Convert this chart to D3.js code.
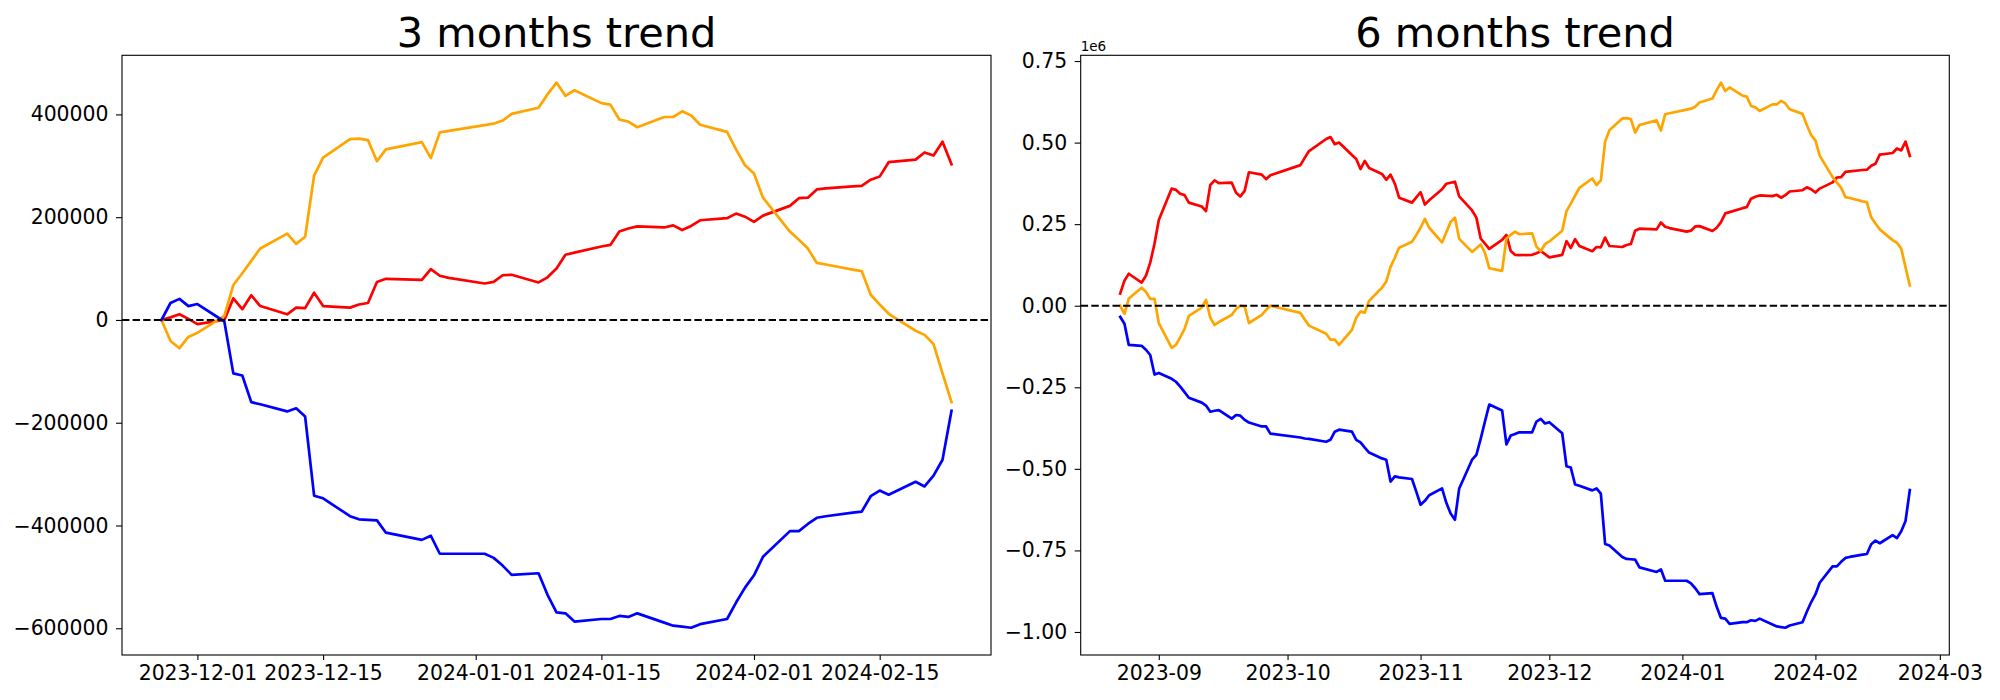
<!DOCTYPE html>
<html><head><meta charset="utf-8">
<script src="https://cdn.jsdelivr.net/npm/d3@7"></script>
<style>body{margin:0;background:#fff}text{font-family:"DejaVu Sans",sans-serif}</style>
</head><body>
<svg id="chart" width="2000" height="700"></svg>
<script>
// ---------- DATA (values in thousands) ----------
const dates3 = ["2023-11-27","2023-11-28","2023-11-29","2023-11-30","2023-12-01",
"2023-12-04","2023-12-05","2023-12-06","2023-12-07","2023-12-08",
"2023-12-11","2023-12-12","2023-12-13","2023-12-14","2023-12-15",
"2023-12-18","2023-12-19","2023-12-20","2023-12-21","2023-12-22",
"2023-12-26","2023-12-27","2023-12-28","2023-12-29",
"2024-01-02","2024-01-03","2024-01-04","2024-01-05",
"2024-01-08","2024-01-09","2024-01-10","2024-01-11","2024-01-12",
"2024-01-15","2024-01-16","2024-01-17","2024-01-18","2024-01-19",
"2024-01-22","2024-01-23","2024-01-24","2024-01-25","2024-01-26",
"2024-01-29","2024-01-30","2024-01-31","2024-02-01","2024-02-02",
"2024-02-05","2024-02-06","2024-02-07","2024-02-08","2024-02-09",
"2024-02-12","2024-02-13","2024-02-14","2024-02-15","2024-02-16",
"2024-02-19","2024-02-20","2024-02-21","2024-02-22","2024-02-23"];
const red3 = [0,5,11,2,-8, 0,42,21,48,27, 11,24,23,53,27, 24,30,33,74,80, 78,99,86,82,
71,74,87,88, 73,83,100,127,131, 143,146,172,178,182, 180,184,175,183,194,
198,207,201,191,203, 222,237,238,254,256, 260,261,273,279,307, 312,326,320,347,303];
const orange3 = [0,-41,-55,-33,-25, 8,68,91,115,139, 168,148,162,281,316, 352,353,350,309,332, 346,315,365,368,
379,382,388,401, 413,439,462,436,447, 422,419,390,386,375, 395,395,406,398,380,
366,332,301,285,238, 172,156,139,111,108, 98,95,49,30,12, -21,-29,-47,-104,-160];
const blue3 = [0,33,41,27,31, -3,-104,-108,-160,-164, -178,-172,-188,-342,-347, -382,-388,-389,-390,-414, -428,-420,-455,-455,
-455,-463,-478,-496, -493,-535,-569,-571,-587, -582,-582,-576,-578,-571, -589,-595,-597,-599,-592,
-582,-550,-521,-497,-461, -411,-411,-397,-385,-382, -375,-373,-343,-332,-340, -315,-324,-303,-272,-177];

const datesAugNov = ["2023-08-23","2023-08-24","2023-08-25","2023-08-28","2023-08-29","2023-08-30","2023-08-31",
"2023-09-01","2023-09-04","2023-09-05","2023-09-06","2023-09-07","2023-09-08",
"2023-09-11","2023-09-12","2023-09-13","2023-09-14","2023-09-15",
"2023-09-18","2023-09-19","2023-09-20","2023-09-21","2023-09-22",
"2023-09-25","2023-09-26","2023-09-27",
"2023-10-04","2023-10-05","2023-10-06","2023-10-10","2023-10-11","2023-10-12","2023-10-13",
"2023-10-16","2023-10-17","2023-10-18","2023-10-19","2023-10-20",
"2023-10-23","2023-10-24","2023-10-25","2023-10-26","2023-10-27","2023-10-30","2023-10-31",
"2023-11-01","2023-11-02","2023-11-03","2023-11-06","2023-11-07","2023-11-08","2023-11-09","2023-11-10",
"2023-11-13","2023-11-14","2023-11-15","2023-11-16","2023-11-17",
"2023-11-20","2023-11-21","2023-11-22","2023-11-23","2023-11-24"];
const dates6 = datesAugNov.concat(dates3);
const red6 = [37,77,98,71,92,132,190,
263,359,355,343,339,316,304,290,370,384,376,377,346,335,352,409,402,388,400,
431,453,474,511,517,495,500,462,450,419,444,422,404,386,402,374,331,316,332,
348,310,323,357,374,377,380,335,292,270,206,190,174,202,217,168,156,155,
156,161,167,158,148,156,198,177,204,183,167,180,179,209,183,180,186,189,230,236,234,255,242,238,
227,230,243,244,229,239,256,283,287,299,302,328,334,338,336,340,331,339,350,
354,363,357,347,359,378,393,394,410,412,416,417,429,435,463,468,482,476,503,459];
const orange6 = [0,-25,22,55,43,21,21,
-53,-129,-120,-96,-71,-31,-6,18,-37,-59,-50,-28,-10,0,-2,-53,-28,-13,0,
-22,-42,-61,-86,-104,-104,-120,-74,-37,-18,-21,15,55,74,119,147,178,196,217,
239,266,239,194,225,257,270,205,165,176,188,162,115,107,206,217,227,219,
222,181,167,189,197,230,290,313,337,361,390,370,384,503,538,574,575,572,531,554,568,537,587,590,
601,604,610,623,635,661,684,658,669,644,641,612,608,597,617,617,628,620,602,
588,554,523,507,460,394,378,361,333,330,320,317,271,252,234,201,193,175,118,62];
const blue6 = [-34,-55,-120,-123,-135,-151,-211,
-206,-224,-233,-248,-265,-282,-297,-306,-325,-322,-320,-346,-335,-337,-350,-358,-370,-370,-392,
-404,-407,-408,-417,-411,-386,-380,-386,-411,-419,-435,-450,-468,-472,-539,-523,-526,-531,-570,
-610,-598,-581,-560,-604,-637,-656,-560,-472,-457,-408,-355,-303,-321,-425,-398,-393,-388,
-388,-355,-347,-361,-357,-391,-492,-496,-548,-552,-566,-560,-576,-730,-735,-770,-776,-777,-778,-802,-816,-808,-843,-843,
-843,-851,-866,-884,-881,-923,-957,-959,-975,-970,-970,-964,-966,-959,-977,-983,-985,-987,-980,
-970,-938,-909,-885,-849,-799,-799,-785,-773,-770,-763,-761,-731,-720,-728,-703,-712,-691,-660,-565];

const xTicks3 = ["2023-12-01","2023-12-15","2024-01-01","2024-01-15","2024-02-01","2024-02-15"];
const yTicks3 = [-600000,-400000,-200000,0,200000,400000];
const xTicks6 = ["2023-09-01","2023-10-01","2023-11-01","2023-12-01","2024-01-01","2024-02-01","2024-03-01"];
const yTicks6 = [-1.00,-0.75,-0.50,-0.25,0.00,0.25,0.50,0.75]; // x 1e6
const colors = {red:"#ff0000", orange:"#ffa500", blue:"#0000ff"};

// ---------- DRAW ----------
const svg = d3.select("#chart");
const parse = d3.utcParse("%Y-%m-%d");
const TOP = 55.3, BOTTOM = 655;

function panel(cfg) {
  const ds = cfg.dates.map(parse);
  const xe = d3.extent(ds);
  const xp = (xe[1] - xe[0]) * 0.05;
  const x = d3.scaleUtc().domain([new Date(+xe[0] - xp), new Date(+xe[1] + xp)]).range([cfg.left, cfg.right]);
  const all = cfg.series.flatMap(s => s.values.map(v => v * 1000));
  const ye = d3.extent(all);
  const yp = (ye[1] - ye[0]) * 0.05;
  const y = d3.scaleLinear().domain([ye[0] - yp, ye[1] + yp]).range([BOTTOM, TOP]);
  const g = svg.append("g");

  const line = d3.line().x(d => x(d[0])).y(d => y(d[1] * 1000));
  cfg.series.forEach(s => {
    g.append("path").datum(ds.map((d, i) => [d, s.values[i]]))
      .attr("d", line).attr("fill", "none").attr("stroke", s.color)
      .attr("stroke-width", 2.7).attr("stroke-linejoin", "round").attr("stroke-linecap", "square");
  });
  g.append("line").attr("x1", cfg.left).attr("x2", cfg.right).attr("y1", y(0)).attr("y2", y(0))
    .attr("stroke", "#000").attr("stroke-width", 2).attr("stroke-dasharray", "7.4,3.2");

  const xa = g.append("g").attr("transform", `translate(0,${BOTTOM})`)
    .call(d3.axisBottom(x).tickValues(cfg.xTicks.map(parse)).tickFormat(cfg.xFmt).tickSize(5).tickPadding(6));
  const ya = g.append("g").attr("transform", `translate(${cfg.left},0)`)
    .call(d3.axisLeft(y).tickValues(cfg.yTicks).tickFormat(cfg.yFmt).tickSize(6).tickPadding(7.5));
  [xa, ya].forEach(a => {
    a.select(".domain").remove();
    a.selectAll("line").attr("stroke", "#000").attr("stroke-width", 1.1);
    a.selectAll("text").attr("fill", "#000").style("font-size", "20.4px").style("font-family", "DejaVu Sans");
  });
  g.append("rect").attr("x", cfg.left).attr("y", TOP).attr("width", cfg.right - cfg.left)
    .attr("height", BOTTOM - TOP).attr("fill", "none").attr("stroke", "#000").attr("stroke-width", 1.1);
  g.append("text").attr("x", (cfg.left + cfg.right) / 2).attr("y", 46.5).attr("text-anchor", "middle")
    .style("font-size", "41.5px").text(cfg.title);
  if (cfg.offsetText) {
    g.append("text").attr("x", cfg.left).attr("y", 50.5).style("font-size", "13.5px").text(cfg.offsetText);
  }
}

panel({left:122, right:991, dates:dates3, title:"3 months trend",
  series:[{values:red3,color:colors.red},{values:orange3,color:colors.orange},{values:blue3,color:colors.blue}],
  xTicks:xTicks3, xFmt:d3.utcFormat("%Y-%m-%d"), yTicks:yTicks3, yFmt:d3.format("d")});
panel({left:1080.7, right:1949.3, dates:dates6, title:"6 months trend",
  series:[{values:red6,color:colors.red},{values:orange6,color:colors.orange},{values:blue6,color:colors.blue}],
  xTicks:xTicks6, xFmt:d3.utcFormat("%Y-%m"), yTicks:yTicks6.map(v => v * 1e6), yFmt:v => d3.format(".2f")(v / 1e6),
  offsetText:"1e6"});
</script>
</body></html>
